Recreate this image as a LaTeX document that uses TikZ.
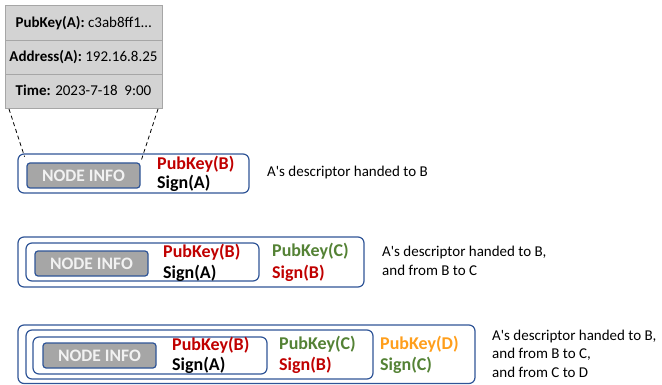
\documentclass[tikz,border=0pt]{standalone}
\usepackage{fontspec}
\setmainfont{Carlito}
\definecolor{bblue}{HTML}{2F5597}
\definecolor{cellfill}{HTML}{D3D3D3}
\definecolor{cellborder}{HTML}{A6A6A6}
\definecolor{infogray}{HTML}{A6A6A6}
\definecolor{infotext}{HTML}{F2F2F2}
\definecolor{kred}{HTML}{C00000}
\definecolor{kgreen}{HTML}{548235}
\definecolor{korange}{HTML}{FF9E1B}
\begin{document}
\begin{tikzpicture}[x=1pt,y=-1pt,
  cell/.style={draw=cellborder, fill=cellfill, line width=0.8pt, minimum width=157pt,
    minimum height=34pt, inner sep=0pt, text height=12pt, text depth=2pt,
    font=\fontsize{15}{17}\selectfont},
  frame/.style={draw=bblue, line width=1.2pt, rounded corners=6pt, inner sep=0pt},
  info/.style={draw=bblue, line width=1.2pt, fill=infogray, rounded corners=3pt,
    minimum width=113pt, minimum height=25pt, inner sep=0pt, text=infotext,
    font=\fontsize{17.5}{20}\selectfont\bfseries},
  key/.style={anchor=base west, inner sep=0pt, font=\fontsize{18}{20}\selectfont\bfseries},
  desc/.style={anchor=base west, inner sep=0pt, align=left, font=\fontsize{15}{18.5}\selectfont},
  guide/.style={dashed, dash pattern=on 4pt off 3pt, line width=0.8pt, black}
]
\useasboundingbox (0,0) rectangle (662,385);

% descriptor table
\node[cell, minimum height=35pt] (t1) at (83.5,22.5) {\textbf{PubKey(A):} c3ab8ff1…};
\node[cell] (t2) at (83.5,57) {\textbf{Address(A):} 192.16.8.25};
\node[cell] (t3) at (83.5,91) {\textbf{Time:} 2023-7-18\ \ 9:00};

% row 1
\node[frame, minimum width=231pt, minimum height=39pt] (r1) at (133.5,173.5) {};
\node[info] (n1) at (83.5,175.5) {NODE INFO};
\node[key, text=kred] (r1pb) at (157,170) {PubKey(B)};
\node[key, text=black] (r1sa) at (157,189) {Sign(A)};
\node[desc] (d1) at (267,177) {A\textquotesingle s descriptor handed to B};

\coordinate (dl) at (9,109);
\coordinate (dr) at (158,109);
\draw[guide, shorten >=6pt] (dl) -- (n1.north west);
\draw[guide, shorten >=1pt] (dr) -- (n1.north east);

% row 2
\node[frame, minimum width=346pt, minimum height=50pt] (r2o) at (191,262) {};
\node[frame, minimum width=233pt, minimum height=38pt] (r2i) at (142.5,262) {};
\node[info] (n2) at (91.5,263.5) {NODE INFO};
\node[key, text=kred] (r2pb) at (163,258) {PubKey(B)};
\node[key, text=black] (r2sa) at (163,278) {Sign(A)};
\node[key, text=kgreen] (r2pc) at (272,256) {PubKey(C)};
\node[key, text=kred] (r2sb) at (272,278) {Sign(B)};
\node[desc] (d2) at (382,275) {A\textquotesingle s descriptor handed to B,\\and from B to C};

% row 3
\node[frame, minimum width=457pt, minimum height=58.5pt] (r3o) at (246.5,354.25) {};
\node[frame, minimum width=347pt, minimum height=49pt] (r3m) at (199.5,354.5) {};
\node[frame, minimum width=234pt, minimum height=37pt] (r3i) at (150,355.5) {};
\node[info] (n3) at (99.5,355.5) {NODE INFO};
\node[key, text=kred] (r3pb) at (172,350) {PubKey(B)};
\node[key, text=black] (r3sa) at (172,370) {Sign(A)};
\node[key, text=kgreen] (r3pc) at (279,349) {PubKey(C)};
\node[key, text=kred] (r3sb) at (279,370) {Sign(B)};
\node[key, text=korange] (r3pd) at (380,349) {PubKey(D)};
\node[key, text=kgreen] (r3sc) at (380,370) {Sign(C)};
\node[desc] (d3) at (492,377) {A\textquotesingle s descriptor handed to B,\\and from B to C,\\and from C to D};
\end{tikzpicture}
\end{document}
